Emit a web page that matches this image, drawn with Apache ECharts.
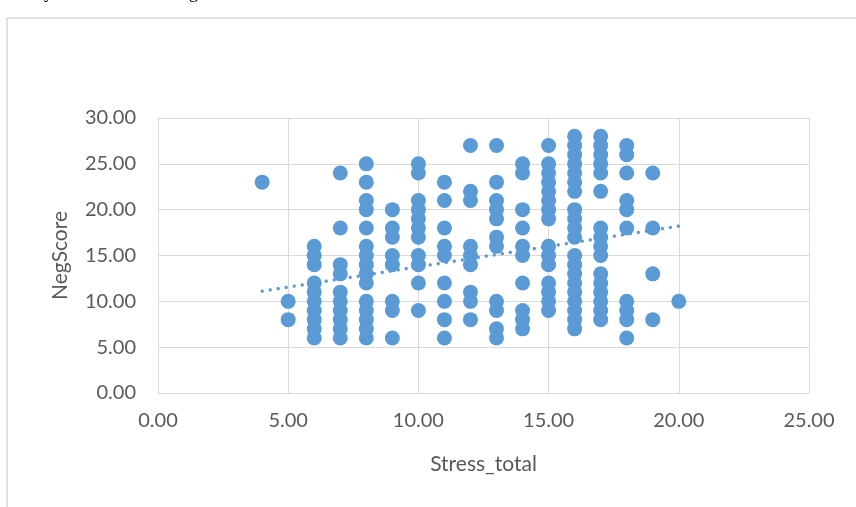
<!DOCTYPE html>
<html>
<head>
<meta charset="utf-8">
<script src="https://cdn.jsdelivr.net/npm/echarts@6/dist/echarts.min.js"></script>
<style>
  html, body { margin: 0; padding: 0; background: #fff; }
  #chart { width: 856px; height: 507px; }
</style>
</head>
<body>
<div id="chart"></div>
<script>
// Stress_total values present in the sample
const stressLevels = [4, 5, 6, 7, 8, 9, 10, 11, 12, 13, 14, 15, 16, 17, 18, 19, 20];
// NegScore values seen at each Stress_total level (same order as stressLevels)
const negScores = [
  [23],
  [10, 8],
  [16, 15, 14, 12, 11, 10, 9, 8, 7, 6],
  [24, 18, 14, 13, 11, 10, 9, 8, 7, 6],
  [25, 23, 21, 20, 18, 16, 15, 14, 13, 12, 10, 9, 8, 7, 6],
  [20, 18, 17, 15, 14, 10, 9, 6],
  [25, 24, 21, 20, 19, 18, 17, 15, 14, 12, 9],
  [23, 21, 18, 16, 15, 12, 10, 8, 6],
  [27, 22, 21, 16, 15, 14, 11, 10, 8],
  [27, 23, 21, 20, 19, 17, 16, 10, 9, 7, 6],
  [25, 24, 20, 18, 16, 15, 12, 9, 8, 7],
  [27, 25, 24, 23, 22, 21, 20, 19, 16, 15, 14, 12, 11, 10, 9],
  [28, 27, 26, 25, 24, 23, 22, 20, 19, 18, 17, 15, 14, 13, 12, 11, 10, 9, 8, 7],
  [28, 27, 26, 25, 24, 22, 18, 17, 16, 15, 13, 12, 11, 10, 9, 8],
  [27, 26, 24, 21, 20, 18, 10, 9, 8, 6],
  [24, 18, 13, 8],
  [10]
];
// linear trendline ends (the fit uses the full sample, with repeats)
const trendX = [4, 20];
const trendY = [11.1, 18.2];
const xTicks = [0, 5, 10, 15, 20, 25];
const yTicks = [0, 5, 10, 15, 20, 25, 30];

const points = [];
stressLevels.forEach((x, i) => {
  negScores[i].forEach(y => points.push([x, y]));
});
const trend = trendX.map((x, i) => [x, trendY[i]]);

const blue = '#5b9bd5';
const gridGray = '#d9d9d9';
const labelColor = '#595959';
const font = 'Lato, "Open Sans", sans-serif';

const chart = echarts.init(document.getElementById('chart'));
chart.setOption({
  animation: false,
  backgroundColor: '#fff',
  graphic: [
    {
      type: 'rect',
      shape: { x: 7, y: 18, width: 880, height: 520 },
      style: { fill: 'none', stroke: gridGray, lineWidth: 1.5 },
      silent: true
    },
    // descenders of the document text line above the chart, cut off by the crop
    {
      type: 'text', left: 44, top: -16,
      style: { text: 'y', font: '18px "Liberation Serif", serif', fill: '#000' }
    },
    {
      type: 'text', left: 189, top: -16,
      style: { text: 'g', font: '18px "Liberation Serif", serif', fill: '#000' }
    }
  ],
  grid: { left: 158, right: 47, top: 118, bottom: 114, containLabel: false },
  xAxis: {
    type: 'value',
    min: 0, max: 25, interval: 5,
    name: 'Stress_total',
    nameLocation: 'middle',
    nameGap: 61,
    nameTextStyle: { color: labelColor, fontSize: 21, fontFamily: font },
    axisLine: { show: true, lineStyle: { color: gridGray, width: 1 } },
    axisTick: { show: false },
    splitLine: { show: true, lineStyle: { color: gridGray, width: 1 } },
    axisLabel: {
      color: labelColor, fontSize: 20, fontFamily: font, margin: 18,
      formatter: v => xTicks.includes(v) ? v.toFixed(2) : ''
    }
  },
  yAxis: {
    type: 'value',
    min: 0, max: 30, interval: 5,
    name: 'NegScore',
    nameLocation: 'middle',
    nameGap: 87,
    nameRotate: 90,
    nameTextStyle: { color: labelColor, fontSize: 21, fontFamily: font },
    axisLine: { show: true, lineStyle: { color: gridGray, width: 1 } },
    axisTick: { show: false },
    splitLine: { show: true, lineStyle: { color: gridGray, width: 1 } },
    axisLabel: {
      color: labelColor, fontSize: 20, fontFamily: font, margin: 22,
      formatter: v => yTicks.includes(v) ? v.toFixed(2) : ''
    }
  },
  series: [
    {
      type: 'scatter',
      data: points,
      symbol: 'circle',
      symbolSize: 15,
      itemStyle: { color: blue, opacity: 1 },
      z: 2
    },
    {
      type: 'line',
      data: trend,
      showSymbol: false,
      symbol: 'none',
      lineStyle: { color: blue, width: 3.3, type: [0.1, 8], cap: 'round' },
      z: 3
    }
  ]
});
</script>
</body>
</html>
